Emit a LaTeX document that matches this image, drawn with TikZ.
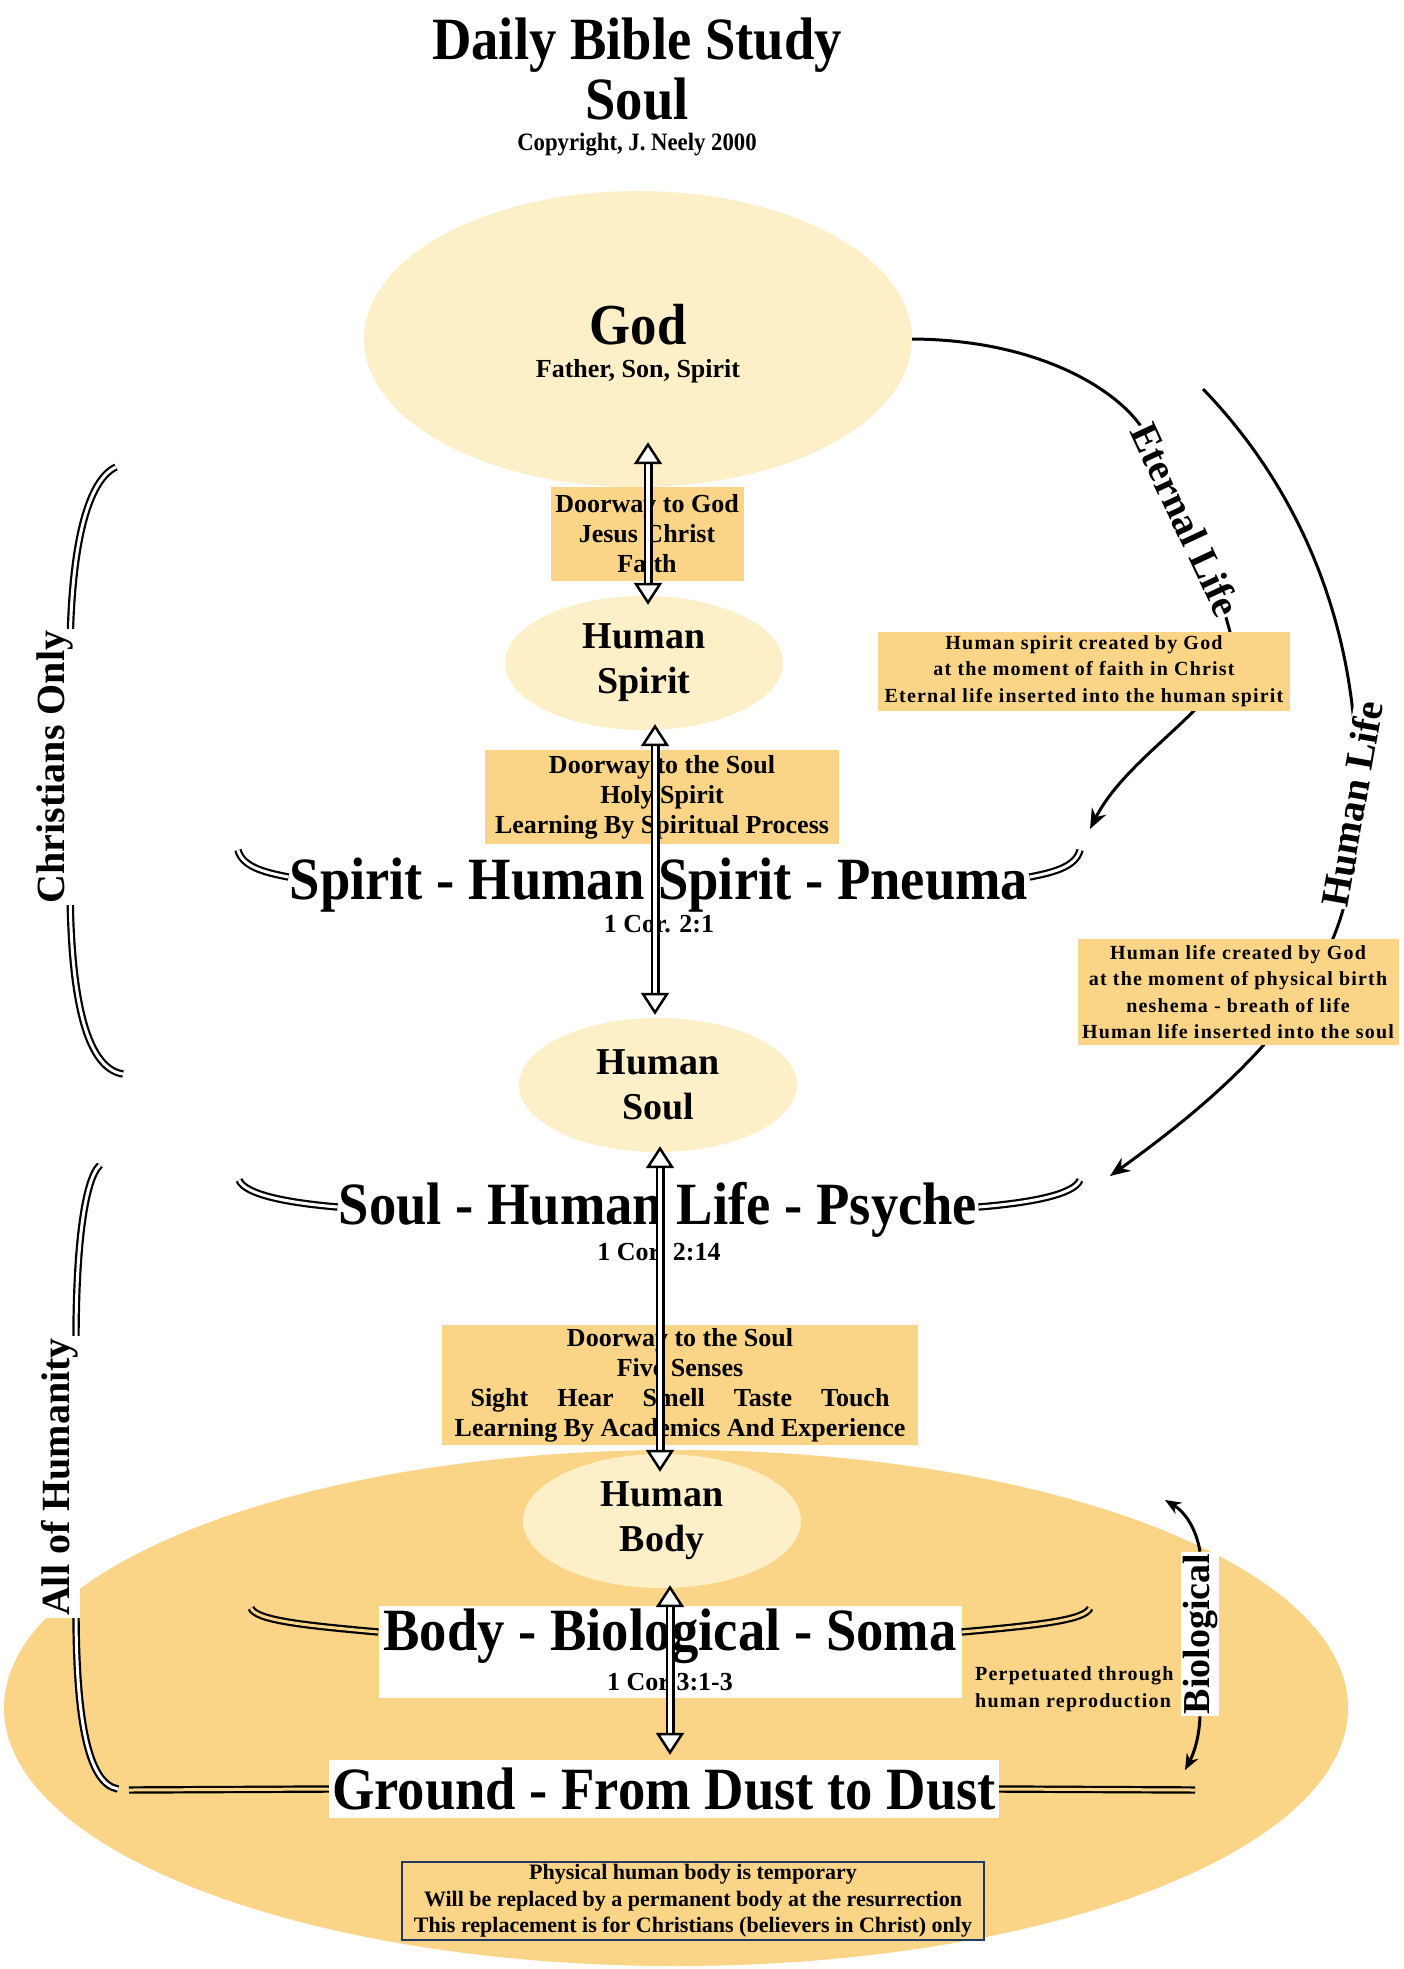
\documentclass[tikz,border=0pt]{standalone}
\usepackage{fontspec}
\setmainfont{Liberation Serif}
\newfontfamily\hdfont[FakeStretch=0.91]{Liberation Serif}
\newfontfamily\widefont[LetterSpace=6]{Liberation Serif}
\usepackage{tikz}
\usetikzlibrary{
	arrows.meta, shapes.geometric, positioning, calc
}
\definecolor{soulcream}     {RGB}{253, 240, 201}
\definecolor{soulorange}    {RGB}{250, 212, 135}
\definecolor{notenavy}      {RGB}{31,  56,  100}

\begin{document}
\begin{tikzpicture}[x=1pt,y=-1pt,
		cream/.style={ellipse,fill=soulcream,inner sep=0pt,minimum width=278pt,minimum height=134pt,align=center,font=\bfseries\fontsize{38}{45}\selectfont},
		doorbox/.style={fill=soulorange,align=center,inner sep=0pt,font=\bfseries\fontsize{26}{30}\selectfont},
		notebox/.style={fill=soulorange,align=center,inner sep=0pt,font=\widefont\bfseries\fontsize{20}{26.5}\selectfont},
		heading/.style={font=\hdfont\bfseries\fontsize{60}{66}\selectfont,inner sep=1pt},
		cor/.style={font=\bfseries\fontsize{26}{30}\selectfont,inner sep=1pt},
		sidelabel/.style={fill=white,rotate=90,inner sep=2pt,font=\bfseries\fontsize{40}{44}\selectfont},
		arclabel/.style={fill=white,inner sep=1pt,font=\bfseries\fontsize{40}{44}\selectfont},
		swoosh/.style={double=white,double distance=3pt,line width=2.2pt},
		dblarrow/.style={double=white,double distance=4pt,line width=2.5pt,
			{Triangle[fill=white,length=22pt,width=28pt,line width=2.5pt]}-{Triangle[fill=white,length=22pt,width=28pt,line width=2.5pt]}},
		life/.style={line width=3pt,-{Stealth[length=20pt,width=16pt]}},
		bioarrow/.style={line width=3pt,-{Stealth[length=16pt,width=13pt]}}
	]
	\useasboundingbox (0,0) rectangle (1403,1969);
	\fill[white] (0,0) rectangle (1403,1969);
	\node[ellipse,fill=soulorange,inner sep=0pt,minimum width=1344pt,minimum height=516pt] (earth) at (676,1708) {};

	\node[heading] (title) at (637,45) {Daily Bible Study};
	\node[heading] (subtitle) at (637,99) {Soul};
	\node[font=\hdfont\bfseries\fontsize{25}{28}\selectfont] (copyright) at (637,145) {Copyright, J. Neely 2000};

	\node[cream,minimum width=548pt,minimum height=296pt] (god) at (638,339) {};
	\node[font=\hdfont\bfseries\fontsize{58}{62}\selectfont] (godname) at (638,325) {God};
	\node[font=\bfseries\fontsize{26}{30}\selectfont] (godsub) at (638,371) {Father, Son, Spirit};
	\node[cream] (hspirit) at (644,663) {Human\\Spirit};
	\node[cream] (hsoul) at (658,1085) {Human\\Soul};
	\node[cream] (hbody) at (662,1521) {Human\\Body};

	\coordinate (etip) at (1090,829);
	\coordinate (hstart) at (1203,389);
	\coordinate (htip) at (1110,1176);
	\draw[life] (god.east) .. controls (1040,340) and (1115,390) .. (1140,425) .. controls (1180,495) and (1215,570) .. (1232,640) .. controls (1236,700) and (1130,750) .. (etip);
	\draw[life] (hstart) .. controls (1310,500) and (1375,660) .. (1352,860) .. controls (1342,990) and (1230,1090) .. (htip);
	\node[arclabel,rotate=-65] (eternal) at (1186,520) {Eternal Life};
	\node[arclabel,rotate=80] (humanlife) at (1352,804) {Human Life};

	\node[notebox,minimum width=412pt,minimum height=79pt] (spiritnote) at (1084,671) {Human spirit created by God\\at the moment of faith in Christ\\Eternal life inserted into the human spirit};
	\node[notebox,minimum width=321pt,minimum height=106pt] (lifenote) at (1238,992) {Human life created by God\\at the moment of physical birth\\neshema - breath of life\\Human life inserted into the soul};

	\node[doorbox,minimum width=193pt,minimum height=94pt] (doorgod) at (647,534) {Doorway to God\\Jesus Christ\\Faith};
	\node[doorbox,minimum width=354pt,minimum height=94pt] (doorspirit) at (662,797) {Doorway to the Soul\\Holy Spirit\\Learning By Spiritual Process};
	\node[doorbox,minimum width=476pt,minimum height=120pt] (doorsenses) at (680,1385) {Doorway to the Soul\\Five Senses\\Sight\hspace{29pt}Hear\hspace{29pt}Smell\hspace{29pt}Taste\hspace{29pt}Touch\\Learning By Academics And Experience};

	\node[heading] (spirithd) at (659,885) {Spirit - Human Spirit - Pneuma};
	\node[cor] (spiritcor) at (659,924) {1 Cor. 2:1};
	\node[heading] (soulhd) at (658,1210) {Soul - Human Life - Psyche};
	\node[cor] (soulcor) at (659,1252) {1 Cor. 2:14};
	\node[heading,fill=white,minimum width=583pt,minimum height=61pt] (bodyhd) at (670,1636) {Body - Biological - Soma};
	\node[cor,fill=white,minimum width=583pt,minimum height=32pt] (bodycor) at (670,1682) {1 Cor 3:1-3};
	\node[heading,fill=white,minimum width=670pt,minimum height=58pt] (groundhd) at (664,1789) {Ground - From Dust to Dust};

	\coordinate (spl) at (238,850);
	\coordinate (spr) at (1080,850);
	\coordinate (sol) at (239,1180);
	\coordinate (sor) at (1080,1180);
	\coordinate (bol) at (251,1608);
	\coordinate (bor) at (1090,1608);
	\coordinate (grl) at (129,1790);
	\coordinate (grr) at (1195,1790);
	\draw[swoosh] ([yshift=8pt]spirithd.west) .. controls (262,872) and (242,866) .. (spl);
	\draw[swoosh] ([yshift=8pt]spirithd.east) .. controls (1056,872) and (1076,866) .. (spr);
	\draw[swoosh] ([yshift=3pt]soulhd.west) .. controls (290,1203) and (245,1195) .. (sol);
	\draw[swoosh] ([yshift=3pt]soulhd.east) .. controls (1028,1203) and (1074,1195) .. (sor);
	\draw[swoosh,double=soulorange] ([yshift=4pt]bodyhd.west) .. controls (300,1625) and (256,1620) .. (bol);
	\draw[swoosh,double=soulorange] ([yshift=4pt]bodyhd.east) .. controls (1040,1625) and (1085,1620) .. (bor);
	\draw[swoosh,double=soulorange] (groundhd.west) -- (grl);
	\draw[swoosh,double=soulorange] (groundhd.east) -- (grr);

	\coordinate (ctop) at (116,467);
	\coordinate (cbot) at (123,1074);
	\coordinate (htop) at (100,1165);
	\coordinate (hbot) at (118,1789);
	\draw[swoosh] (ctop) .. controls (84,482) and (70,560) .. (70,660) -- (70,880) .. controls (70,990) and (84,1068) .. (cbot);
	\draw[swoosh] (htop) .. controls (84,1180) and (76,1250) .. (76,1340) -- (76,1610) .. controls (76,1720) and (88,1784) .. (hbot);
	\node[sidelabel] (christians) at (55,767) {Christians Only};
	\node[sidelabel] (humanity) at (60,1477) {All of Humanity};

	\node[sidelabel,font=\bfseries\fontsize{38}{42}\selectfont] (bio) at (1200,1634) {Biological};
	\coordinate (bioup) at (1165,1500);
	\coordinate (biodn) at (1185,1770);
	\draw[bioarrow] (bio.east) .. controls (1196,1528) and (1185,1512) .. (bioup);
	\draw[bioarrow] (bio.west) .. controls (1199,1740) and (1193,1755) .. (biodn);
	\node[notebox,fill=none,align=left,anchor=west] (perpetual) at (975,1689) {Perpetuated through\\human reproduction};

	\node[notebox,font=\bfseries\fontsize{22}{26.5}\selectfont,draw=notenavy,line width=1.2pt,minimum width=582pt,minimum height=78pt] (tempnote) at (693,1901) {Physical human body is temporary\\Will be replaced by a permanent body at the resurrection\\This replacement is for Christians (believers in Christ) only};

	\draw[dblarrow] ([xshift=10pt,yshift=45pt]god.south) -- ([xshift=4pt,yshift=-9pt]hspirit.north);
	\draw[dblarrow] ([xshift=11pt,yshift=6pt]hspirit.south) -- ([xshift=-3pt,yshift=3pt]hsoul.north);
	\draw[dblarrow] ([xshift=2pt,yshift=6pt]hsoul.south) -- ([xshift=-2pt,yshift=-18pt]hbody.north);
	\draw[dblarrow] ([xshift=8pt,yshift=3pt]hbody.south) -- ([xshift=6pt,yshift=5pt]groundhd.north);
\end{tikzpicture}
\end{document}
